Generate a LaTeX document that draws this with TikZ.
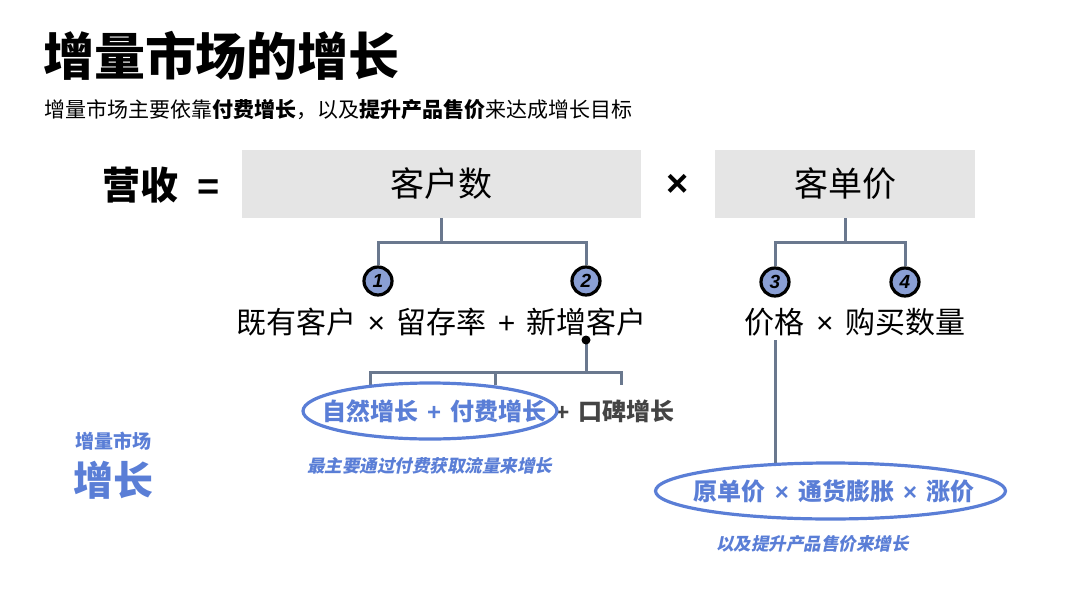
\documentclass[tikz,border=0pt]{standalone}
\usepackage{fontspec}
\setmainfont{Noto Sans CJK SC}
\newfontfamily\cjkit[FakeSlant=0.2]{Noto Sans CJK SC}
\newfontfamily\lat{Liberation Sans}
\usetikzlibrary{calc}
\definecolor{hlblue}{HTML}{5A7ED6}
\definecolor{boxgray}{HTML}{E5E5E5}
\definecolor{linkgray}{HTML}{6A788E}
\definecolor{numfill}{HTML}{8A9FD4}
\definecolor{darktext}{HTML}{444444}
\newcommand{\tms}{\hspace{0.38em}{\lat ×}\hspace{0.38em}}
\newcommand{\pls}{\hspace{0.38em}{\lat +}\hspace{0.38em}}
\tikzset{
  txt/.style={inner sep=0pt, outer sep=0pt},
  graybox/.style={fill=boxgray, draw=none, minimum height=68pt, inner sep=0pt},
  link/.style={draw=linkgray, line width=3pt},
  numc/.style={circle, fill=numfill, draw=black, line width=3.2pt, minimum size=28pt, inner sep=0pt, font=\fontsize{19}{19}\selectfont\lat\bfseries\itshape},
  oval/.style={draw=hlblue, line width=3.2pt},
}
\begin{document}
\begin{tikzpicture}[x=1pt,y=-1pt]
\useasboundingbox (0,0) rectangle (1080,600);
% title
\node[txt, anchor=west] (title) at (43,56) {\fontsize{51}{51}\selectfont\bfseries 增量市场的增长};
\node[txt, anchor=west] (sub) at (45,110) {\fontsize{21}{21}\selectfont 增量市场主要依靠\textbf{付费增长}，以及\textbf{提升产品售价}来达成增长目标};
% formula
\node[txt, anchor=west] (rev) at (102,185) {\fontsize{38}{38}\selectfont\bfseries 营收\hspace{0.5em}{\lat=}};
\node[graybox, minimum width=399pt] (cust) at (441.5,184) {\fontsize{34}{34}\selectfont 客户数};
\node[txt] (times) at (678,185) {\fontsize{38}{38}\selectfont\lat\bfseries ×};
\node[graybox, minimum width=260pt] (price) at (845,184) {\fontsize{34}{34}\selectfont 客单价};
% numbered circles
\node[numc] (n1) at (378,281) {1};
\node[numc] (n2) at (586,281) {2};
\node[numc] (n3) at (775,282) {3};
\node[numc] (n4) at (905,282) {4};
\draw[link] (cust.south) -- ++(0,24) -| (n1.north);
\draw[link] (cust.south) ++(0,24) -| (n2.north);
\draw[link] (price.south) -- ++(0,24) -| (n3.north);
\draw[link] (price.south) ++(0,24) -| (n4.north);
% second level text
\node[txt] (f1) at (441.5,322) {\fontsize{30}{30}\selectfont 既有客户\tms 留存率\pls 新增客户};
\node[txt] (f2) at (855,322) {\fontsize{30}{30}\selectfont 价格\tms 购买数量};
% dot and branch
\coordinate (dot) at (586,340);
\coordinate (bar) at (586,372);
\coordinate (t1) at (370,385);
\coordinate (t2) at (495,385);
\coordinate (t3) at (621,385);
\draw[link] (dot) -- (bar);
\draw[link] (t1) |- (bar) -| (t3);
\draw[link] (t2) -- (t2 |- bar);
\fill[black] (dot) circle (4.5pt);
% third level
\node[txt, anchor=west] (g1) at (322,411) {\fontsize{24}{24}\selectfont\bfseries\color{hlblue}自然增长\pls 付费增长\hspace{0.38em}\color{darktext}{\lat +}\hspace{0.38em}口碑增长};
\draw[oval] (430,411) ellipse (127pt and 28pt);
\node[txt, anchor=west] (note1) at (307,466) {\fontsize{17.5}{17.5}\selectfont\cjkit\bfseries\color{hlblue}最主要通过付费获取流量来增长};
% price branch
\coordinate (e2top) at (775,463);
\draw[link] (775,340) -- (e2top);
\draw[oval] (830.5,491) ellipse (175pt and 28pt);
\node[txt] (g2) at (834,491) {\fontsize{24}{24}\selectfont\bfseries\color{hlblue}原单价\tms 通货膨胀\tms 涨价};
\node[txt, anchor=west] (note2) at (716,544) {\fontsize{17.5}{17.5}\selectfont\cjkit\bfseries\color{hlblue}以及提升产品售价来增长};
% left label
\node[txt, anchor=west] (lab1) at (75,441) {\fontsize{19}{19}\selectfont\bfseries\color{hlblue}增量市场};
\node[txt, anchor=west] (lab2) at (73,480) {\fontsize{40}{40}\selectfont\bfseries\color{hlblue}增长};
\end{tikzpicture}
\end{document}
